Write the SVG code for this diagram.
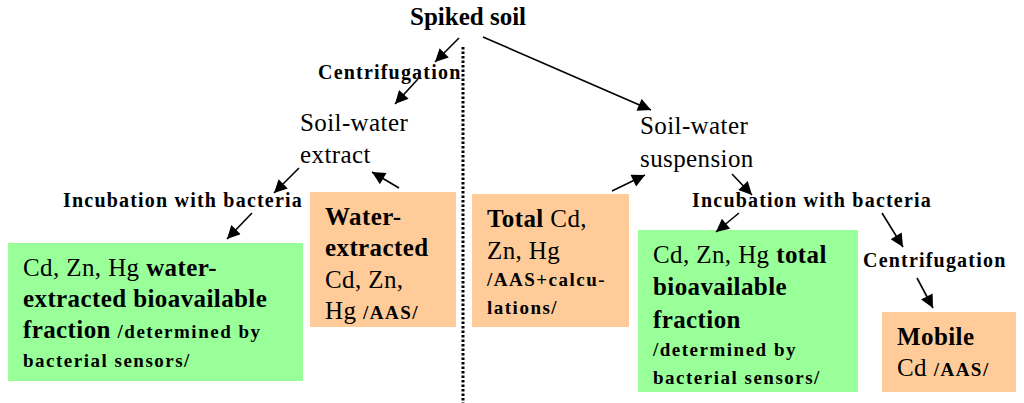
<svg xmlns="http://www.w3.org/2000/svg" width="1024" height="403" viewBox="0 0 1024 403" font-family="Liberation Serif, serif">
<defs>
<style>
text, tspan{font-family:'Liberation Serif','Times New Roman',serif;fill:#000}
.big{font-size:25px;letter-spacing:0.4px}
.b{font-weight:bold}
.sm{font-size:19px;font-weight:bold;letter-spacing:1.5px}
.lbl{font-size:20px;font-weight:bold;letter-spacing:1.2px}
.green{fill:#99FF99}
.orange{fill:#FFCC99}
.arr{stroke:#000;stroke-width:1.6;fill:none;marker-end:url(#ah)}
</style>
<marker id="ah" viewBox="0 0 10 10" refX="10" refY="5" markerWidth="15" markerHeight="13" markerUnits="userSpaceOnUse" orient="auto">
<path d="M0,0 L10,5 L0,10 Z" fill="#000"/>
</marker>
</defs>
<rect width="1024" height="403" fill="#fff"/>

<g id="divider">
<line x1="463" y1="47" x2="463" y2="403" stroke="#000" stroke-width="3" stroke-dasharray="2.5 2"/>
</g>

<g id="spiked-soil">
<text x="410" y="25" class="b" font-size="25">Spiked soil</text>
</g>

<g id="centrifugation-left">
<text x="318" y="79" class="lbl">Centrifugation</text>
</g>

<g id="soil-water-extract">
<text x="300" y="131" class="big">Soil-water</text>
<text x="300" y="163" class="big">extract</text>
</g>

<g id="incubation-left">
<text x="63" y="207" class="lbl">Incubation with bacteria</text>
</g>

<g id="green-left">
<rect x="8" y="243" width="295" height="138" class="green"/>
<text x="23" y="276" class="big">Cd, Zn, Hg <tspan class="b">water-</tspan></text>
<text x="23" y="307" class="big b">extracted bioavailable</text>
<text x="23" y="338" class="big b">fraction <tspan class="sm">/determined by</tspan></text>
<text x="23" y="367" class="sm">bacterial sensors/</text>
</g>

<g id="water-extracted">
<rect x="310" y="192" width="146" height="135" class="orange"/>
<text x="325" y="225" class="big b">Water-</text>
<text x="325" y="256" class="big b">extracted</text>
<text x="325" y="288" class="big">Cd, Zn,</text>
<text x="325" y="319" class="big">Hg <tspan class="sm">/AAS/</tspan></text>
</g>

<g id="soil-water-suspension">
<text x="640" y="134" class="big">Soil-water</text>
<text x="640" y="167" class="big">suspension</text>
</g>

<g id="total">
<rect x="472" y="194" width="157" height="133" class="orange"/>
<text x="487" y="227" class="big"><tspan class="b">Total</tspan> Cd,</text>
<text x="487" y="259" class="big">Zn, Hg</text>
<text x="487" y="286" class="sm">/AAS+calcu-</text>
<text x="487" y="314" class="sm">lations/</text>
</g>

<g id="incubation-right">
<text x="692" y="207" class="lbl">Incubation with bacteria</text>
</g>

<g id="green-right">
<rect x="638" y="230" width="220" height="162" class="green"/>
<text x="653" y="263" class="big">Cd, Zn, Hg <tspan class="b">total</tspan></text>
<text x="653" y="295" class="big b">bioavailable</text>
<text x="653" y="328" class="big b">fraction</text>
<text x="653" y="356" class="sm">/determined by</text>
<text x="653" y="384" class="sm">bacterial sensors/</text>
</g>

<g id="centrifugation-right">
<text x="863" y="267" class="lbl">Centrifugation</text>
</g>

<g id="mobile">
<rect x="882" y="312" width="134" height="80" class="orange"/>
<text x="897" y="345" class="big b">Mobile</text>
<text x="897" y="376" class="big">Cd  <tspan class="sm">/AAS/</tspan></text>
</g>

<g id="connectors">
<line class="arr" x1="459" y1="38" x2="435" y2="62"/>
<line class="arr" x1="418" y1="79" x2="395" y2="104"/>
<line class="arr" x1="299" y1="168" x2="274" y2="193"/>
<line class="arr" x1="252" y1="213" x2="227" y2="239"/>
<line class="arr" x1="399" y1="188" x2="372" y2="172"/>
<line class="arr" x1="483" y1="37" x2="651" y2="110"/>
<line class="arr" x1="612" y1="191" x2="645" y2="175"/>
<line class="arr" x1="732" y1="174" x2="752" y2="195"/>
<line class="arr" x1="739" y1="213" x2="716" y2="232"/>
<line class="arr" x1="882" y1="213" x2="903" y2="247"/>
<line class="arr" x1="917" y1="278" x2="933" y2="308"/>
</g>
</svg>
